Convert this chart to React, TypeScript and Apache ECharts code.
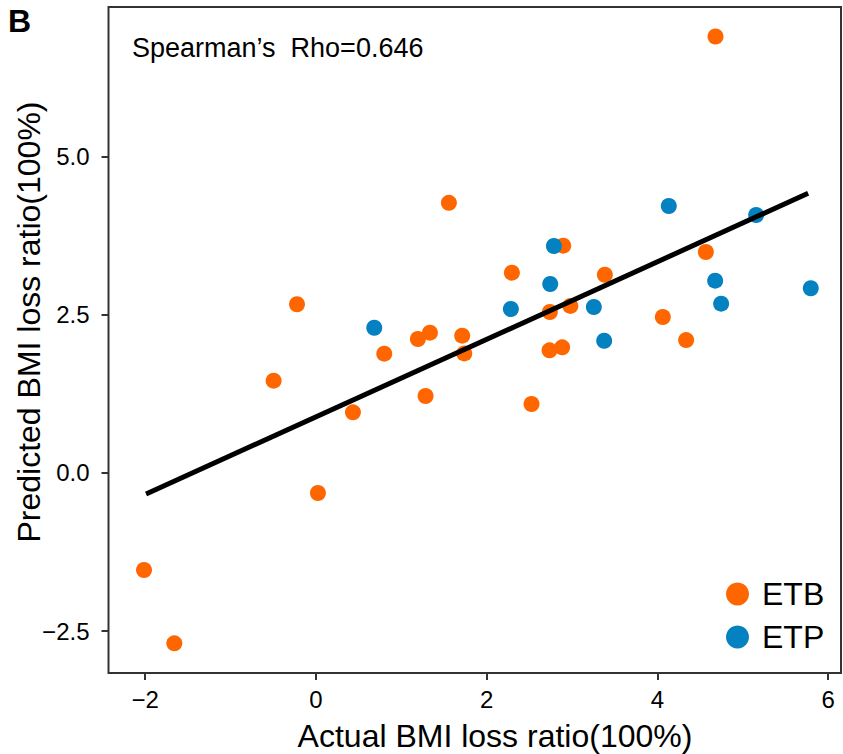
import React, { useEffect, useRef } from "react";
import * as echarts from "echarts";

// Actual vs. predicted BMI loss ratio (units of 100%)
const etbActual = [4.68, 1.557, 2.896, 2.295, 3.384, 4.567, -0.222, 2.74, 2.98, 4.063, 4.336, 2.736, 2.884, 2.525, 1.194, 1.335, 1.713, 1.737, 0.8, -0.496, 1.284, 0.433, 0.023, -2.014, -1.659];
const etbPredicted = [6.9, 4.27, 3.593, 3.166, 3.134, 3.493, 2.666, 2.544, 2.64, 2.465, 2.1, 1.938, 1.986, 1.09, 2.117, 2.217, 2.17, 1.89, 1.885, 1.458, 1.216, 0.958, -0.318, -1.535, -2.695];

const etpActual = [0.683, 4.133, 5.156, 2.787, 2.744, 2.283, 3.255, 3.376, 4.676, 4.746, 5.796];
const etpPredicted = [2.296, 4.22, 4.078, 3.588, 2.987, 2.592, 2.623, 2.09, 3.04, 2.676, 2.919];

// Linear fit, drawn across the range of the data
const fitX = [-1.99, 5.765];
const fitY = [-0.334, 4.421];

const xTicks = [-2, 0, 2, 4, 6];
const yTicks = [-2.5, 0, 2.5, 5];

const groupNames = ["ETB", "ETP"];
const groupColors = ["#FF6600", "#0381C1"];

const FONT = "'Liberation Sans', Arial, Helvetica, sans-serif";

const minus = (s: string) => s.replace("-", "\u2212");

export default function App() {
  const ref = useRef<HTMLDivElement>(null);

  useEffect(() => {
    if (!ref.current) return;
    const chart = echarts.init(ref.current, null, { renderer: "svg" });

    const zip = (xs: number[], ys: number[]) => xs.map((x, i) => [x, ys[i]]);

    chart.setOption({
      animation: false,
      backgroundColor: "#ffffff",
      textStyle: { fontFamily: FONT },
      grid: {
        left: 108.5,
        top: 7,
        right: 2,
        bottom: 81,
        show: true,
        borderColor: "#333333",
        borderWidth: 2,
        backgroundColor: "transparent",
      },
      xAxis: {
        type: "value",
        min: -2.43,
        max: 6.15,
        splitLine: { show: false },
        axisLine: { show: false, onZero: false },
        axisTick: {
          show: true,
          length: 7,
          lineStyle: { color: "#333333", width: 2 },
          customValues: xTicks,
        },
        axisLabel: {
          customValues: xTicks,
          margin: 14,
          fontSize: 24,
          color: "#000000",
          fontFamily: FONT,
          formatter: (v: number) => minus(String(v)),
        },
      },
      yAxis: {
        type: "value",
        min: -3.164,
        max: 7.367,
        splitLine: { show: false },
        axisLine: { show: false, onZero: false },
        axisTick: {
          show: true,
          length: 7,
          lineStyle: { color: "#333333", width: 2 },
          customValues: yTicks,
        },
        axisLabel: {
          customValues: yTicks,
          margin: 19,
          fontSize: 24,
          color: "#000000",
          fontFamily: FONT,
          formatter: (v: number) => minus(v.toFixed(1)),
        },
      },
      legend: {
        orient: "vertical",
        left: 721,
        top: 573,
        itemWidth: 23,
        itemHeight: 23,
        itemGap: 11,
        icon: "circle",
        data: groupNames,
        textStyle: {
          fontSize: 32,
          color: "#000000",
          fontFamily: FONT,
          padding: [0, 0, 0, 8],
        },
      },
      series: [
        {
          name: groupNames[0],
          type: "scatter",
          symbol: "circle",
          symbolSize: 16,
          itemStyle: { color: groupColors[0], opacity: 1 },
          data: zip(etbActual, etbPredicted),
          z: 2,
        },
        {
          name: groupNames[1],
          type: "scatter",
          symbol: "circle",
          symbolSize: 16,
          itemStyle: { color: groupColors[1], opacity: 1 },
          data: zip(etpActual, etpPredicted),
          z: 3,
        },
        {
          name: "fit",
          type: "line",
          showSymbol: false,
          symbol: "none",
          lineStyle: { color: "#000000", width: 5, cap: "butt" },
          data: zip(fitX, fitY),
          z: 4,
          silent: true,
        },
      ],
      graphic: [
        {
          type: "text",
          left: 8,
          top: 5,
          style: {
            text: "B",
            fontSize: 32,
            fontWeight: "bold",
            fontFamily: FONT,
            fill: "#000000",
          },
        },
        {
          type: "text",
          x: 132,
          y: 48,
          style: {
            text: "Spearman\u2019s  Rho=0.646",
            fontSize: 27,
            fontFamily: FONT,
            fill: "#000000",
            align: "left",
            verticalAlign: "middle",
          },
        },
        {
          type: "text",
          x: 495,
          y: 736,
          style: {
            text: "Actual BMI loss ratio(100%)",
            fontSize: 32,
            fontFamily: FONT,
            fill: "#000000",
            align: "center",
            verticalAlign: "middle",
          },
        },
        {
          type: "text",
          x: 29,
          y: 322,
          rotation: Math.PI / 2,
          style: {
            text: "Predicted BMI loss ratio(100%)",
            fontSize: 32,
            fontFamily: FONT,
            fill: "#000000",
            align: "center",
            verticalAlign: "middle",
          },
        },
      ],
    });

    return () => chart.dispose();
  }, []);

  return <div ref={ref} style={{ width: 843, height: 754, position: "absolute", left: 0, top: 0 }} />;
}
